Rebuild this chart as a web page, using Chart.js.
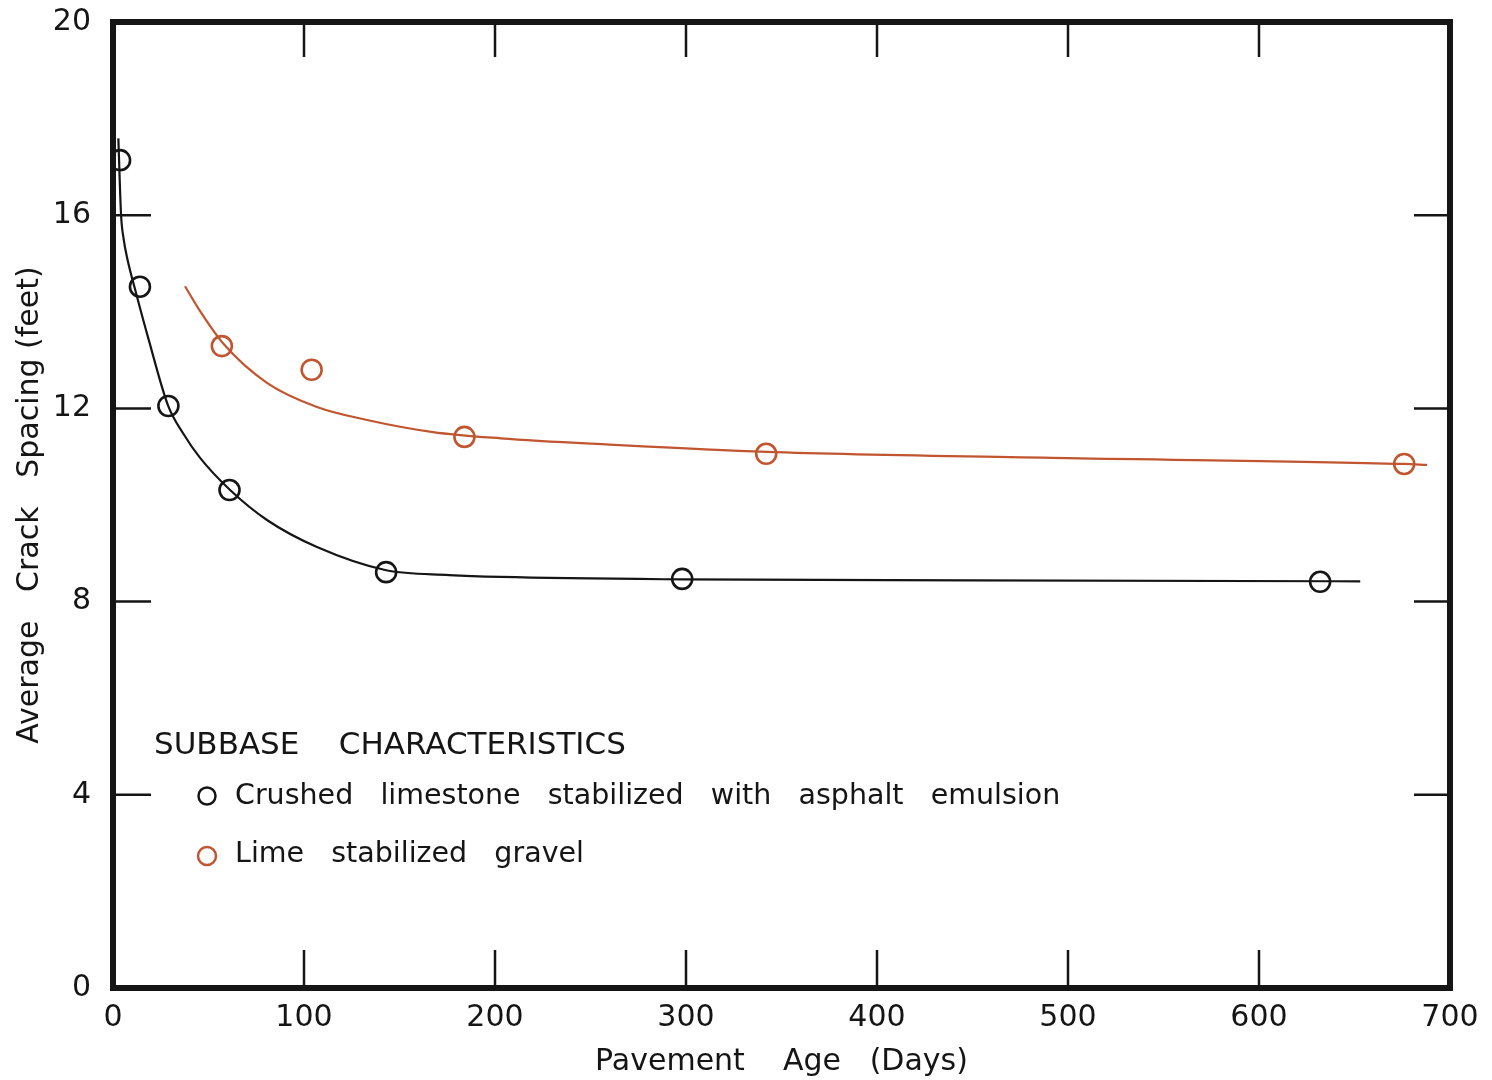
<!DOCTYPE html>
<html>
<head>
<meta charset="utf-8">
<script src="https://cdn.jsdelivr.net/npm/chart.js@4/dist/chart.umd.min.js"></script>
<style>
  html, body { margin: 0; padding: 0; background: #fff; }
  #wrap { width: 1492px; height: 1080px; }
</style>
</head>
<body>
<div id="wrap"><canvas id="crackChart" width="1492" height="1080"></canvas></div>
<script>
// measured points (pavement age in days, crack spacing in feet)
var limestoneDays = [3.7, 14.1, 29, 61, 143, 298, 632];
var limestoneSpacing = [17.14, 14.52, 12.05, 10.31, 8.61, 8.47, 8.41];
var limeDays = [57, 104, 184, 342, 676];
var limeSpacing = [13.29, 12.8, 11.41, 11.06, 10.85];

// hand drawn fitted curves
var limestoneCurveDays = [2.8, 4.2, 5.6, 7.5, 12, 18.5, 29, 36.6, 45.5, 61.3, 80.6, 106.8, 143, 176, 203, 298, 450, 653];
var limestoneCurveSpacing = [17.59, 16.02, 15.5, 15.1, 14.4, 13.45, 12.04, 11.49, 10.98, 10.31, 9.69, 9.13, 8.65, 8.55, 8.51, 8.46, 8.44, 8.42];
var limeCurveDays = [37.7, 45, 57.6, 80.6, 106.8, 133, 167.5, 203, 260, 342, 500, 676, 688];
var limeCurveSpacing = [14.53, 14.05, 13.35, 12.53, 12.03, 11.76, 11.51, 11.38, 11.25, 11.1, 10.97, 10.85, 10.83];

var xTicks = [0, 100, 200, 300, 400, 500, 600, 700];
var yTicks = [0, 4, 8, 12, 16, 20];

var BLACK = "#151515";
var ORANGE = "#c0552f";
var FONT = "'DejaVu Sans', sans-serif";

function toXY(xs, ys) {
  var out = [];
  for (var i = 0; i < xs.length; i++) out.push({ x: xs[i], y: ys[i] });
  return out;
}

// frame, inward ticks and the key
var frameTicks = {
  id: "frameTicks",
  afterDraw: function (chart) {
    var ctx = chart.ctx;
    var a = chart.chartArea;
    var xs = chart.scales.x, ys = chart.scales.y;
    ctx.save();
    ctx.strokeStyle = BLACK;
    ctx.lineWidth = 2.5;
    ctx.beginPath();
    xTicks.forEach(function (v) {
      if (v === 0 || v === 700) return;
      var px = xs.getPixelForValue(v);
      ctx.moveTo(px, a.top); ctx.lineTo(px, a.top + 35);
      ctx.moveTo(px, a.bottom); ctx.lineTo(px, a.bottom - 38);
    });
    yTicks.forEach(function (v) {
      if (v === 0 || v === 20) return;
      var py = ys.getPixelForValue(v);
      ctx.moveTo(a.left, py); ctx.lineTo(a.left + 38, py);
      ctx.moveTo(a.right, py); ctx.lineTo(a.right - 36, py);
    });
    ctx.stroke();
    ctx.lineWidth = 6;
    ctx.strokeRect(a.left, a.top, a.right - a.left, a.bottom - a.top);

    // key
    ctx.fillStyle = BLACK;
    ctx.font = "31px " + FONT;
    ctx.textBaseline = "middle";
    ctx.textAlign = "left";
    ctx.fillText("SUBBASE    CHARACTERISTICS", 154, 746);
    ctx.font = "28.5px " + FONT;
    ctx.fillText("Crushed   limestone   stabilized   with   asphalt   emulsion", 235, 797);
    ctx.fillText("Lime   stabilized   gravel", 235, 855);
    ctx.lineWidth = 2.5;
    ctx.strokeStyle = BLACK;
    ctx.beginPath(); ctx.arc(207, 796, 8.5, 0, Math.PI * 2); ctx.stroke();
    ctx.strokeStyle = ORANGE;
    ctx.beginPath(); ctx.arc(207, 856, 9, 0, Math.PI * 2); ctx.stroke();
    ctx.restore();
  }
};

var ctx = document.getElementById("crackChart").getContext("2d");
new Chart(ctx, {
  type: "scatter",
  data: {
    datasets: [
      {
        label: "Crushed limestone curve",
        data: toXY(limestoneCurveDays, limestoneCurveSpacing),
        showLine: true,
        borderColor: BLACK,
        borderWidth: 2.2,
        pointRadius: 0,
        cubicInterpolationMode: "monotone",
        fill: false
      },
      {
        label: "Lime gravel curve",
        data: toXY(limeCurveDays, limeCurveSpacing),
        showLine: true,
        borderColor: ORANGE,
        borderWidth: 2.2,
        pointRadius: 0,
        cubicInterpolationMode: "monotone",
        fill: false
      },
      {
        label: "Crushed limestone stabilized with asphalt emulsion",
        data: toXY(limestoneDays, limestoneSpacing),
        showLine: false,
        pointStyle: "circle",
        pointRadius: 10,
        pointBorderWidth: 2.6,
        pointBorderColor: BLACK,
        pointBackgroundColor: "rgba(0,0,0,0)"
      },
      {
        label: "Lime stabilized gravel",
        data: toXY(limeDays, limeSpacing),
        showLine: false,
        pointStyle: "circle",
        pointRadius: 10,
        pointBorderWidth: 2.6,
        pointBorderColor: ORANGE,
        pointBackgroundColor: "rgba(0,0,0,0)"
      }
    ]
  },
  options: {
    responsive: false,
    animation: false,
    layout: { padding: { left: 0, top: 22, right: 42, bottom: 0 } },
    plugins: {
      legend: { display: false },
      tooltip: { enabled: false }
    },
    scales: {
      x: {
        type: "linear",
        min: 0,
        max: 700,
        afterFit: function (s) { s.height = 92; s.paddingLeft = 0; s.paddingRight = 0; },
        afterBuildTicks: function (s) { s.ticks = xTicks.map(function (v) { return { value: v }; }); },
        grid: { display: false, drawTicks: false },
        border: { display: false },
        ticks: { color: BLACK, font: { family: FONT, size: 30 }, padding: 12, maxRotation: 0 },
        title: {
          display: true,
          text: "Pavement    Age   (Days)",
          color: BLACK,
          font: { family: FONT, size: 30 },
          padding: { top: 2, bottom: 0 }
        }
      },
      y: {
        type: "linear",
        min: 0,
        max: 20,
        afterFit: function (s) { s.width = 113; s.paddingTop = 0; s.paddingBottom = 0; },
        afterBuildTicks: function (s) { s.ticks = yTicks.map(function (v) { return { value: v }; }); },
        grid: { display: false, drawTicks: false },
        border: { display: false },
        ticks: { color: BLACK, font: { family: FONT, size: 30 }, padding: 22 },
        title: {
          display: true,
          text: "Average   Crack   Spacing (feet)",
          color: BLACK,
          font: { family: FONT, size: 30 },
          padding: { top: 12, bottom: 0 }
        }
      }
    }
  },
  plugins: [frameTicks]
});
</script>
</body>
</html>
